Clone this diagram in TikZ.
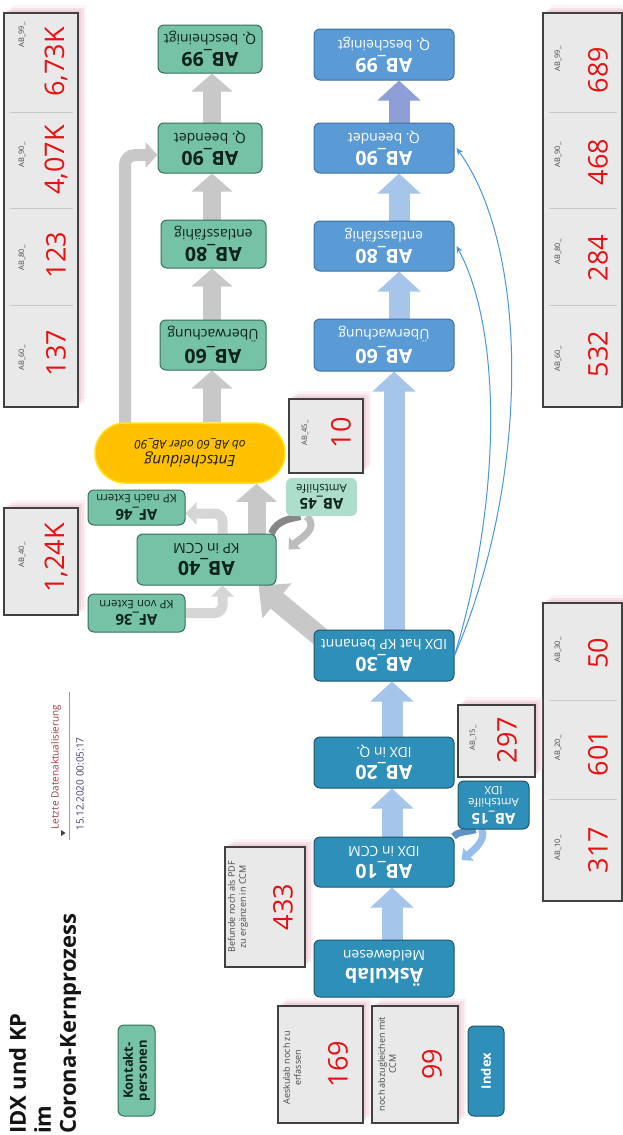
\documentclass[tikz,border=0pt]{standalone}
\usepackage{fontspec}
\setmainfont{Open Sans}
\usetikzlibrary{arrows.meta,shadows,calc}
\definecolor{gfill}{RGB}{118,194,166}
\definecolor{gdraw}{RGB}{52,112,90}
\definecolor{lgfill}{RGB}{172,222,203}
\definecolor{bfill}{RGB}{91,155,213}
\definecolor{bdraw}{RGB}{62,112,160}
\definecolor{tfill}{RGB}{46,143,184}
\definecolor{tdraw}{RGB}{28,84,112}
\definecolor{yfill}{RGB}{255,192,0}
\definecolor{ydraw}{RGB}{255,228,20}
\definecolor{sfill}{RGB}{233,233,233}
\definecolor{sdraw}{RGB}{65,65,65}
\definecolor{numred}{RGB}{228,18,18}
\definecolor{lblgray}{RGB}{70,70,70}
\definecolor{garr}{RGB}{200,200,200}
\definecolor{garrl}{RGB}{214,214,214}
\definecolor{garrd}{RGB}{135,135,135}
\definecolor{garrm}{RGB}{188,188,188}
\definecolor{barr}{RGB}{165,197,234}
\definecolor{barrd}{RGB}{142,158,214}
\definecolor{bthin}{RGB}{72,150,222}
\definecolor{bloopd}{RGB}{95,145,195}
\definecolor{bloopl}{RGB}{150,190,235}
\definecolor{glowc}{RGB}{232,178,192}
\definecolor{darkredt}{RGB}{160,60,60}
\definecolor{datec}{RGB}{75,55,105}
\definecolor{redline}{RGB}{232,120,135}
\definecolor{greentext}{RGB}{15,35,28}
\definecolor{divc}{RGB}{200,200,200}
\pgfdeclarelayer{bg}
\pgfsetlayers{bg,main}
\newcommand\boxlines[2]{{\bfseries\fontsize{19.5}{20}\selectfont #1}\\[3pt]#2}
\newcommand\smalllines[2]{{\bfseries\fontsize{15}{16}\selectfont #1}\\[2pt]#2}
\begin{document}
\begin{tikzpicture}[x=1pt,y=-1pt,
  proc/.style={rounded corners=6pt, line width=1pt, inner sep=0pt},
  gbox/.style={proc, fill=gfill, draw=gdraw},
  lgbox/.style={proc, fill=lgfill, draw=none},
  bbox/.style={proc, fill=bfill, draw=bdraw},
  tbox/.style={proc, fill=tfill, draw=tdraw},
  ptext/.style={rotate=180, align=center, inner sep=0pt, font=\fontsize{14}{15}\selectfont},
  stext/.style={rotate=180, align=center, inner sep=0pt, font=\fontsize{11.5}{12.5}\selectfont},
  glow/.style={general shadow={shadow xshift=8pt, shadow yshift=8pt, fill=glowc, fill opacity=0.15},
               general shadow={shadow xshift=5.5pt, shadow yshift=5.5pt, fill=glowc, fill opacity=0.25},
               general shadow={shadow xshift=3pt, shadow yshift=3pt, fill=glowc, fill opacity=0.35}},
  stat/.style={draw=sdraw, fill=sfill, line width=1.1pt, inner sep=0pt, glow},
  slabel/.style={rotate=90, text=lblgray, font=\fontsize{7.5}{8.5}\selectfont, inner sep=0pt, align=center},
  mlabel/.style={rotate=90, text=lblgray, font=\fontsize{9}{11}\selectfont, inner sep=0pt, align=center},
  snum/.style={rotate=90, text=numred, font=\fontsize{27}{30}\selectfont, inner sep=0pt},
  garrow/.style={draw=garr, line width=18pt, -{Triangle[length=18pt,width=40pt]}},
  barrow/.style={draw=barr, line width=21pt, -{Triangle[length=20pt,width=42pt]}},
  hook/.style={draw=garrl, line width=10pt, rounded corners=8pt, -{Triangle[length=11pt,width=22pt]}},
  thinb/.style={draw=bthin, line width=1pt, -{Stealth[length=7pt,width=6pt]}}
]
\useasboundingbox (0,0) rectangle (623,1135);
\begin{pgfonlayer}{bg}
\fill[white] (0,0) rectangle (623,1135);
\end{pgfonlayer}

% ---------- title ----------
\node[rotate=90, anchor=north west, align=left, inner sep=0pt, font=\bfseries\fontsize{22}{25}\selectfont, text={rgb,255:red,20;green,20;blue,20}] (title) at (9,1134) {IDX und KP\\im\\Corona-Kernprozess};

\node[gbox, minimum width=37pt, minimum height=91pt] (kontakt) at (136.5,1070.5) {};
\node[rotate=90, align=center, inner sep=0pt, font=\bfseries\fontsize{13}{14}\selectfont, text=greentext] (kontaktt) at (kontakt) {Kontakt-\\personen};

\node[tbox, minimum width=36pt, minimum height=90pt] (index) at (486,1071) {};
\node[rotate=90, inner sep=0pt, font=\bfseries\fontsize{13}{14}\selectfont, text=white] (indext) at (index) {Index};

% ---------- Letzte Datenaktualisierung ----------
\node[rotate=90, inner sep=0pt, text=darkredt, font=\fontsize{10}{12}\selectfont] (letzte) at (56,767) {Letzte Datenaktualisierung};
\node[rotate=90, inner sep=0pt, text=datec, font=\fontsize{10}{12}\selectfont] (datum) at (80,784) {15.12.2020 00:05:17};
\draw[redline, line width=0.8pt] (69,692) -- (69,840);
\fill[black!75] (61,830) -- (61,836) -- (65.5,833) -- cycle;

% ---------- green column ----------
\node[gbox, minimum width=104pt, minimum height=48pt] (ab99) at (210,49) {};
\node[ptext, text=greentext] (ab99t) at (ab99) {\boxlines{AB\_99}{Q. bescheinigt}};
\node[gbox, minimum width=104pt, minimum height=50pt] (ab90) at (210,148) {};
\node[ptext, text=greentext] (ab90t) at (ab90) {\boxlines{AB\_90}{Q. beendet}};
\node[gbox, minimum width=105pt, minimum height=48pt] (ab80) at (213.5,244) {};
\node[ptext, text=greentext] (ab80t) at (ab80) {\boxlines{AB\_80}{entlassfähig}};
\node[gbox, minimum width=106pt, minimum height=50pt] (ab60) at (213,345) {};
\node[ptext, text=greentext] (ab60t) at (ab60) {\boxlines{AB\_60}{Überwachung}};
\node[fill=yfill, draw=ydraw, line width=1.5pt, rounded corners=30pt, minimum width=190pt, minimum height=60pt, inner sep=0pt] (ent) at (190,453) {};
\node[rotate=180, align=center, inner sep=0pt, text={rgb,255:red,30;green,30;blue,30}, font=\itshape\fontsize{12}{15}\selectfont] (entt) at (ent) {{\fontsize{15.5}{16}\selectfont Entscheidung}\\ob AB\_60 oder AB\_90};
\node[gbox, minimum width=97pt, minimum height=35pt] (af46) at (136.5,507.5) {};
\node[stext, text=greentext] (af46t) at (af46) {\smalllines{AF\_46}{KP nach Extern}};
\node[gbox, minimum width=139pt, minimum height=51pt] (ab40) at (206.5,559.5) {};
\node[ptext, text=greentext] (ab40t) at (ab40) {\boxlines{AB\_40}{KP in CCM}};
\node[gbox, minimum width=97pt, minimum height=38pt] (af36) at (136.5,613) {};
\node[stext, text=greentext] (af36t) at (af36) {\smalllines{AF\_36}{KP von Extern}};
\node[lgbox, minimum width=71pt, minimum height=38pt] (ab45) at (321.5,497) {};
\node[stext, text=greentext] (ab45t) at (ab45) {\smalllines{AB\_45}{Amtshilfe}};

% ---------- blue column ----------
\node[bbox, minimum width=140pt, minimum height=51pt] (bab99) at (384,54.5) {};
\node[ptext, text=white] (bab99t) at (bab99) {\boxlines{AB\_99}{Q. bescheinigt}};
\node[bbox, minimum width=140pt, minimum height=50pt] (bab90) at (384,148) {};
\node[ptext, text=white] (bab90t) at (bab90) {\boxlines{AB\_90}{Q. beendet}};
\node[bbox, minimum width=140pt, minimum height=50pt] (bab80) at (384,246) {};
\node[ptext, text=white] (bab80t) at (bab80) {\boxlines{AB\_80}{entlassfähig}};
\node[bbox, minimum width=140pt, minimum height=52pt] (bab60) at (384,345) {};
\node[ptext, text=white] (bab60t) at (bab60) {\boxlines{AB\_60}{Überwachung}};
\node[tbox, minimum width=140pt, minimum height=51pt] (ab30) at (384,655.5) {};
\node[ptext, text=white] (ab30t) at (ab30) {\boxlines{AB\_30}{IDX hat KP benannt}};
\node[tbox, minimum width=140pt, minimum height=51pt] (ab20) at (384,762.5) {};
\node[ptext, text=white] (ab20t) at (ab20) {\boxlines{AB\_20}{IDX in Q.}};
\node[tbox, minimum width=140pt, minimum height=50pt] (ab10) at (384,862) {};
\node[ptext, text=white] (ab10t) at (ab10) {\boxlines{AB\_10}{IDX in CCM}};
\node[tbox, minimum width=140pt, minimum height=57pt] (ask) at (384,968.5) {};
\node[ptext, text=white] (askt) at (ask) {\boxlines{Äskulab}{Meldewesen}};
\node[tbox, minimum width=71pt, minimum height=48pt] (ab15) at (493.5,805) {};
\node[stext, text=white] (ab15t) at (ab15) {\smalllines{AB\_15}{Amtshilfe\\IDX}};

% ---------- stats ----------
\node[stat, minimum width=74pt, minimum height=394pt] (sL) at (41,210) {};
\draw[divc, line width=1pt] (10,112) -- (73,112) (10,208) -- (73,208) (10,305) -- (73,305);
\node[slabel] (sL1l) at (22,35) {AB\_99\_};
\node[snum] (sL1n) at (56,62) {6,73K};
\node[slabel] (sL2l) at (22,155) {AB\_90\_};
\node[snum] (sL2n) at (56,160) {4,07K};
\node[slabel] (sL3l) at (22,258) {AB\_80\_};
\node[snum] (sL3n) at (56,255) {123};
\node[slabel] (sL4l) at (22,358) {AB\_60\_};
\node[snum] (sL4n) at (56,353) {137};

\node[stat, minimum width=74pt, minimum height=107pt] (s40) at (41,561.5) {};
\node[slabel] (s40l) at (22,555) {AB\_40\_};
\node[snum] (s40n) at (56,558) {1,24K};

\node[stat, minimum width=74pt, minimum height=74pt] (s45) at (326,436) {};
\node[slabel] (s45l) at (305,433) {AB\_45\_};
\node[snum] (s45n) at (341,433) {10};

\node[stat, minimum width=79pt, minimum height=394pt] (sR) at (582.5,210) {};
\draw[divc, line width=1pt] (549,112) -- (617,112) (549,208) -- (617,208) (549,305) -- (617,305);
\node[slabel] (sR1l) at (558,59) {AB\_99\_};
\node[snum] (sR1n) at (598,70) {689};
\node[slabel] (sR2l) at (558,155) {AB\_90\_};
\node[snum] (sR2n) at (598,162) {468};
\node[slabel] (sR3l) at (558,252) {AB\_80\_};
\node[snum] (sR3n) at (598,258) {284};
\node[slabel] (sR4l) at (558,359) {AB\_60\_};
\node[snum] (sR4n) at (598,354) {532};

\node[stat, minimum width=79pt, minimum height=298pt] (sB) at (582.5,752) {};
\draw[divc, line width=1pt] (549,700) -- (617,700) (549,799) -- (617,799);
\node[slabel] (sB1l) at (558,650) {AB\_30\_};
\node[snum] (sB1n) at (598,653) {50};
\node[slabel] (sB2l) at (558,748) {AB\_20\_};
\node[snum] (sB2n) at (598,753) {601};
\node[slabel] (sB3l) at (558,848) {AB\_10\_};
\node[snum] (sB3n) at (598,850) {317};

\node[stat, minimum width=77pt, minimum height=72pt] (s15) at (496.5,741) {};
\node[slabel] (s15l) at (473,738) {AB\_15\_};
\node[snum] (s15n) at (507,740) {297};

\node[stat, minimum width=80pt, minimum height=120pt] (sbef) at (265,907) {};
\node[mlabel] (sbefl) at (238,907) {Befunde noch als PDF\\zu ergänzen in CCM};
\node[snum] (sbefn) at (283,907) {433};

\node[stat, minimum width=85pt, minimum height=117pt] (saes) at (320.5,1064.5) {};
\node[mlabel] (saesl) at (292,1068) {Aeskulab noch zu\\erfassen};
\node[snum] (saesn) at (338,1064) {169};

\node[stat, minimum width=86pt, minimum height=117pt] (sabg) at (415,1064.5) {};
\node[mlabel] (sabgl) at (387,1064) {noch abzugleichen mit\\CCM};
\node[snum] (sabgn) at (432,1064) {99};

% ---------- connectors ----------
\begin{pgfonlayer}{bg}
% green column
\draw[garrow] ([xshift=2pt]ab90.north) -- ([xshift=2pt]ab99.south);
\draw[garrow] ([xshift=-1.5pt]ab80.north) -- ([xshift=2pt]ab90.south);
\draw[garrow] ([xshift=-1pt]ab60.north) -- ([xshift=-1.5pt]ab80.south);
\draw[garrow] ([xshift=22pt]ent.north) -- ([xshift=-1pt]ab60.south);
\draw[garrow] ([xshift=50pt]ab40.north) -- ([xshift=50pt]ab40.north |- ent.south);
\draw[draw=garr, line width=12pt, rounded corners=10pt, -{Triangle[length=12pt,width=25pt]}]
  ([xshift=-65pt,yshift=-4pt]ent.north) |- ([yshift=-7pt]ab90.west);
\draw[hook] ([xshift=16pt]ab40.north) |- ([yshift=-6pt]af46.east);
\draw[hook] (af36.east) -| ([xshift=16pt]ab40.south);
\draw[draw=garr, line width=20pt, -{Triangle[length=24pt,width=44pt]}]
  ([xshift=10pt,yshift=-10pt]ab30.north west) -- ([xshift=52pt]ab40.south);
\draw[draw=garrd, line width=7pt] ([xshift=-5pt]ab40.north east) .. controls +(5,-14) and +(-8,2) .. ([xshift=-21pt]ab45.south);
\draw[draw=garrm, line width=7pt, -{Triangle[length=9pt,width=16pt]}]
  ([xshift=-15pt]ab45.south) .. controls +(14,12) and +(10,-10) .. ([xshift=12pt,yshift=10pt]ab40.east);
% blue column
\draw[barrow] ([xshift=8pt]ask.north) -- ([xshift=8pt]ab10.south);
\draw[barrow] ([xshift=8pt]ab10.north) -- ([xshift=8pt]ab20.south);
\draw[barrow] ([xshift=8pt]ab20.north) -- ([xshift=8pt]ab30.south);
\draw[barrow] ([xshift=10pt]ab30.north) -- ([xshift=10pt]bab60.south);
\draw[barrow] ([xshift=15pt]bab60.north) -- ([xshift=15pt]bab80.south);
\draw[barrow] ([xshift=15pt]bab80.north) -- ([xshift=15pt]bab90.south);
\draw[barrow, draw=barrd] ([xshift=15pt]bab90.north) -- ([xshift=15pt]bab99.south);
\draw[draw=bloopd, line width=7pt] ([xshift=-1pt]ab10.north east) .. controls +(6,-6) and +(-8,3) .. ([xshift=-18pt]ab15.south);
\draw[draw=bloopl, line width=7pt, -{Triangle[length=9pt,width=16pt]}]
  ([xshift=-12pt]ab15.south) .. controls +(6,10) and +(10,-8) .. ([xshift=7pt,yshift=2pt]ab10.east);
\end{pgfonlayer}
\draw[thinb] (ab30.east) .. controls (502,500) and (502,330) .. ([xshift=2pt]bab80.east);
\draw[thinb] (ab30.east) .. controls (530,480) and (530,250) .. ([xshift=2pt]bab90.east);
\end{tikzpicture}
\end{document}
